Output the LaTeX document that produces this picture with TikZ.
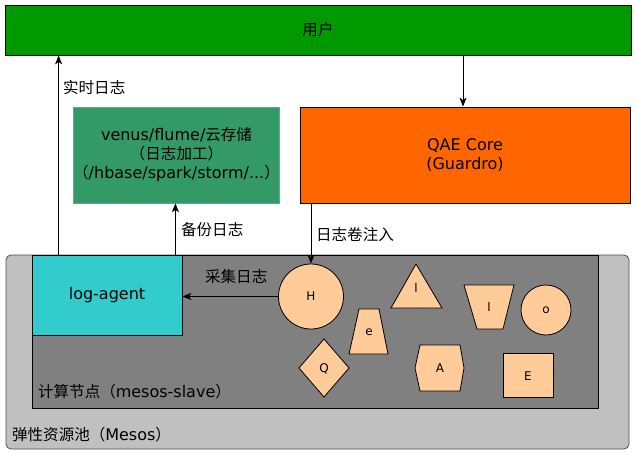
\documentclass[tikz,border=0pt]{standalone}
\usepackage{fontspec}
\setmainfont{DejaVu Sans}
\newfontfamily\cjk[Scale=0.97]{Noto Sans CJK SC}
\usetikzlibrary{arrows.meta}
\definecolor{usergreen}{HTML}{009900}
\definecolor{qaeorange}{HTML}{FF6600}
\definecolor{storegreen}{HTML}{339966}
\definecolor{agentcyan}{HTML}{33CCCC}
\definecolor{poolgray}{HTML}{C0C0C0}
\definecolor{nodegray}{HTML}{808080}
\definecolor{peach}{HTML}{FFCC99}
\tikzset{
  box/.style={draw=black, line width=0.8pt, inner sep=0pt, align=center, text=black},
  arr/.style={draw=black, line width=0.8pt, -{Stealth[length=9pt,width=7pt,inset=2.5pt]}},
  lbl/.style={inner sep=0pt, anchor=west, font=\fontsize{16}{19}\selectfont},
  shp/.style={draw=black, line width=0.8pt, fill=peach},
  shplbl/.style={inner sep=0pt, font=\fontsize{12}{14}\selectfont},
}
\begin{document}
\begin{tikzpicture}[x=1pt,y=-1pt,font=\fontsize{16}{19}\selectfont]
\useasboundingbox (0,0) rectangle (636,454);
% pool and compute node
\node[draw=black!70, line width=0.8pt, fill=poolgray, rounded corners=5pt, minimum width=623pt, minimum height=194pt, inner sep=0pt] (pool) at (317.5,352) {};
\node[box, fill=nodegray, minimum width=566pt, minimum height=153pt] (compute) at (315,331.5) {};
\node[lbl] (poollbl) at (12,435) {{\cjk 弹性资源池（}Mesos{\cjk ）}};
\node[lbl] (computelbl) at (38,392) {{\cjk 计算节点（}mesos-slave{\cjk ）}};
% top boxes
\node[box, fill=usergreen, minimum width=626pt, minimum height=50pt] (user) at (318,30) {\cjk 用户};
\node[box, fill=qaeorange, minimum width=330pt, minimum height=96pt] (qae) at (465,155) {QAE Core\\(Guardro)};
\node[draw=storegreen!80!white, line width=0.6pt, fill=storegreen, inner sep=0pt, align=center, minimum width=205pt, minimum height=96pt] (store) at (176.5,155) {venus/flume/{\cjk 云存储}\\{\cjk （日志加工）}\\{\cjk （}/hbase/spark/storm/...{\cjk ）}};
\node[box, fill=agentcyan, minimum width=150pt, minimum height=80pt] (agent) at (107,295) {log-agent};
% shapes
\node[shp, circle, minimum size=65pt, inner sep=0pt, font=\fontsize{12}{14}\selectfont] (H) at (311,296.5) {H};
\draw[shp] (416,264) -- (442,308) -- (391,308) -- cycle;
\node[shplbl] (l1) at (416,288) {l};
\draw[shp] (359,309) -- (379,309) -- (388,354) -- (349,354) -- cycle;
\node[shplbl] (e) at (369,332) {e};
\draw[shp] (464,285) -- (514,285) -- (503,329) -- (477,329) -- cycle;
\node[shplbl] (l2) at (489,307) {l};
\node[shp, circle, minimum size=50pt, inner sep=0pt, font=\fontsize{12}{14}\selectfont] (o) at (546,310) {o};
\draw[shp] (324,339) -- (349,368) -- (324,397) -- (299,368) -- cycle;
\node[shplbl] (Q) at (324,369) {Q};
\draw[shp] (420,345) -- (460,345) -- (464,368) -- (460,391) -- (420,391) -- (415,368) -- cycle;
\node[shplbl] (A) at (440,368) {A};
\draw[shp] (503,353) rectangle (553,397);
\node[shplbl] (E) at (528,376) {E};
% connectors
\draw[arr] ([xshift=-2pt]user.south -| qae.north) coordinate (u1) -- (u1 |- qae.north);
\draw[arr] ([xshift=27pt]agent.north west) coordinate (a1) -- (a1 |- user.south);
\node[lbl] (rtlbl) at (63,88) {\cjk 实时日志};
\draw[arr] ([xshift=-7pt]agent.north east) coordinate (a2) -- (a2 |- store.south);
\node[lbl] (bklbl) at (181,230) {\cjk 备份日志};
\draw[arr] (qae.south -| H.north) -- (H.north);
\node[lbl] (injlbl) at (316,235) {\cjk 日志卷注入};
\draw[arr] (H.west) -- (H.west -| agent.east);
\node[lbl] (collbl) at (205,277) {\cjk 采集日志};
\end{tikzpicture}
\end{document}
